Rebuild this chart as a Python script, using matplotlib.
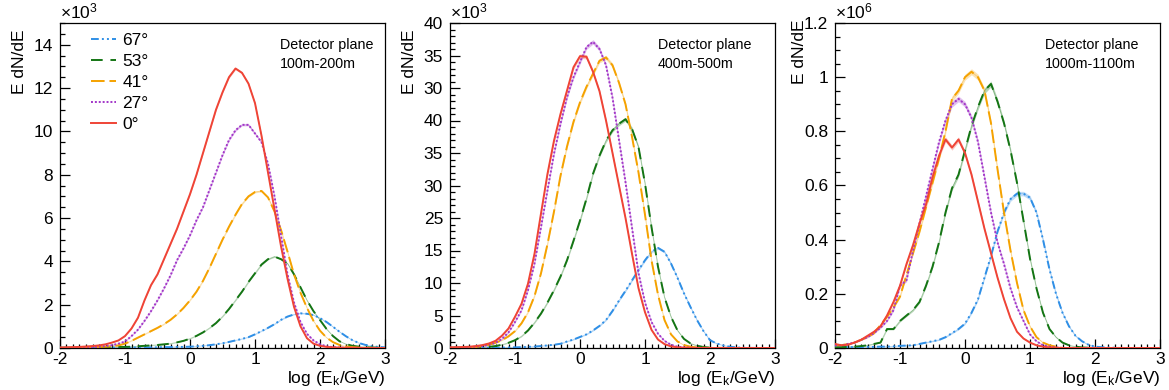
import numpy as np
import matplotlib
matplotlib.use('Agg')
import matplotlib.pyplot as plt
from matplotlib.ticker import MultipleLocator, FixedLocator, FixedFormatter

plt.rcParams['font.family'] = ['Liberation Sans', 'DejaVu Sans']
plt.rcParams['axes.unicode_minus'] = False
plt.rcParams['mathtext.default'] = 'regular'

# ---------------- data ----------------
log_ek = np.round(np.arange(-2.0, 3.001, 0.1), 2)   # bin centres, log(Ek/GeV)
angles = ['67°', '53°', '41°', '27°', '0°']
ranges = ['100m-200m', '400m-500m', '1000m-1100m']
y_scale_text = [r'$\times$10$^{3}$', r'$\times$10$^{3}$', r'$\times$10$^{6}$']
y_max = [15, 50, 1.2]
mid_tick_values = [0, 5, 10, 15, 20, 25, 30, 35, 40, 45, 50]
mid_tick_labels = ['0', '5', '10', '15', '25', '30', '35', '40', '30', '35', '40']

# panel 1: 100m-200m (x10^3)
red1 = [0.02, 0.03, 0.04, 0.05, 0.07, 0.09, 0.12, 0.17, 0.25, 0.35,
        0.55, 0.9, 1.4, 2.2, 2.9, 3.4, 4.1, 4.8, 5.5, 6.3,
        7.1, 8.0, 9.0, 10.0, 11.0, 11.8, 12.5, 12.9, 12.7, 12.2,
        11.3, 9.8, 8.1, 6.4, 4.7, 3.2, 1.9, 1.0, 0.45, 0.2,
        0.1, 0.05, 0.03, 0.02, 0.01, 0.01, 0.01, 0.0, 0.0, 0.0, 0.0]
purple1 = [0.01, 0.01, 0.02, 0.02, 0.03, 0.04, 0.06, 0.09, 0.13, 0.2,
           0.3, 0.55, 0.85, 1.25, 1.7, 2.2, 2.75, 3.35, 4.05, 4.6,
           5.2, 5.9, 6.5, 7.3, 8.1, 8.9, 9.6, 10.05, 10.3, 10.3,
           9.9, 9.5, 8.5, 7.0, 5.2, 3.4, 2.1, 1.2, 0.65, 0.35,
           0.17, 0.08, 0.04, 0.02, 0.01, 0.01, 0.0, 0.0, 0.0, 0.0, 0.0]
orange1 = [0.01, 0.01, 0.02, 0.02, 0.03, 0.04, 0.05, 0.06, 0.08, 0.12,
           0.2, 0.33, 0.48, 0.63, 0.78, 0.93, 1.1, 1.3, 1.55, 1.85,
           2.2, 2.6, 3.1, 3.7, 4.35, 5.0, 5.6, 6.15, 6.65, 7.0,
           7.2, 7.25, 6.95, 6.3, 5.45, 4.45, 3.4, 2.55, 1.85, 1.25,
           0.8, 0.48, 0.27, 0.14, 0.07, 0.04, 0.02, 0.01, 0.01, 0.0, 0.0]
green1 = [0.01, 0.01, 0.01, 0.02, 0.02, 0.02, 0.03, 0.03, 0.04, 0.05,
          0.05, 0.06, 0.08, 0.1, 0.12, 0.14, 0.17, 0.2, 0.26, 0.33,
          0.43, 0.56, 0.72, 0.92, 1.15, 1.45, 1.8, 2.2, 2.6, 3.05,
          3.45, 3.85, 4.1, 4.22, 4.1, 3.9, 3.4, 2.8, 2.2, 1.7,
          1.29, 0.88, 0.55, 0.31, 0.18, 0.1, 0.06, 0.04, 0.02, 0.01, 0.01]
blue1 = [0.01, 0.01, 0.01, 0.01, 0.01, 0.01, 0.01, 0.01, 0.02, 0.02,
         0.02, 0.02, 0.03, 0.03, 0.03, 0.03, 0.04, 0.04, 0.05, 0.05,
         0.06, 0.08, 0.1, 0.13, 0.17, 0.22, 0.28, 0.35, 0.42, 0.5,
         0.63, 0.78, 0.93, 1.1, 1.3, 1.45, 1.55, 1.6, 1.58, 1.52,
         1.38, 1.2, 0.98, 0.75, 0.54, 0.36, 0.23, 0.14, 0.08, 0.05, 0.03]

# panel 2: 400m-500m (x10^3, axis as printed)
red2 = [0.1, 0.12, 0.15, 0.2, 0.3, 0.45, 0.7, 1.1, 1.9, 3.0,
        4.8, 6.8, 9.9, 14.5, 20.7, 26.8, 31.9, 36.0, 39.6, 43.2,
        44.9, 44.8, 42.5, 39.5, 35.0, 30.0, 25.0, 20.0, 14.5, 9.2,
        5.5, 2.8, 1.3, 0.6, 0.25, 0.1, 0.05, 0.02, 0.01, 0.0,
        0.0, 0.0, 0.0, 0.0, 0.0, 0.0, 0.0, 0.0, 0.0, 0.0, 0.0]
purple2 = [0.05, 0.07, 0.1, 0.15, 0.2, 0.3, 0.5, 0.8, 1.4, 2.4,
           4.0, 5.8, 8.9, 13.0, 18.6, 24.3, 29.9, 34.5, 38.6, 41.7,
           44.0, 46.3, 47.1, 46.0, 43.5, 38.5, 32.0, 25.5, 18.5, 11.5,
           7.0, 4.0, 2.2, 1.1, 0.5, 0.2, 0.1, 0.05, 0.02, 0.01,
           0.0, 0.0, 0.0, 0.0, 0.0, 0.0, 0.0, 0.0, 0.0, 0.0, 0.0]
orange2 = [0.03, 0.05, 0.07, 0.1, 0.15, 0.3, 0.5, 0.8, 1.2, 1.8,
           2.6, 3.8, 5.5, 8.0, 11.5, 16.0, 21.0, 26.5, 31.0, 34.8,
           37.8, 40.2, 42.2, 44.2, 44.7, 43.5, 40.8, 37.5, 32.5, 27.0,
           20.5, 13.5, 8.2, 4.3, 2.1, 1.0, 0.45, 0.2, 0.08, 0.03,
           0.01, 0.0, 0.0, 0.0, 0.0, 0.0, 0.0, 0.0, 0.0, 0.0, 0.0]
green2 = [0.02, 0.03, 0.04, 0.06, 0.08, 0.12, 0.18, 0.3, 0.5, 0.8,
          1.2, 1.8, 2.7, 3.9, 5.3, 7.0, 8.9, 11.0, 13.5, 16.5,
          19.6, 23.0, 26.8, 29.6, 31.9, 33.5, 34.5, 35.2, 33.7, 30.9,
          25.3, 18.6, 12.5, 7.8, 4.8, 2.7, 1.4, 0.7, 0.35, 0.15,
          0.06, 0.03, 0.01, 0.0, 0.0, 0.0, 0.0, 0.0, 0.0, 0.0, 0.0]
blue2 = [0.02, 0.02, 0.02, 0.02, 0.02, 0.03, 0.04, 0.05, 0.06, 0.08,
         0.1, 0.13, 0.17, 0.22, 0.3, 0.4, 0.5, 0.65, 1.0, 1.3,
         1.7, 2.1, 2.7, 3.4, 4.3, 5.7, 7.3, 8.8, 10.4, 12.0,
         13.5, 14.8, 15.4, 14.8, 13.0, 10.8, 8.4, 6.3, 4.3, 2.6,
         1.2, 0.7, 0.4, 0.2, 0.1, 0.05, 0.02, 0.01, 0.0, 0.0, 0.0]

# panel 3: 1000m-1100m (x10^6)
red3 = [0.015, 0.01, 0.012, 0.02, 0.03, 0.045, 0.06, 0.08, 0.12, 0.17,
        0.23, 0.31, 0.38, 0.46, 0.53, 0.63, 0.71, 0.77, 0.74, 0.77,
        0.72, 0.64, 0.54, 0.44, 0.35, 0.26, 0.18, 0.11, 0.06, 0.035,
        0.02, 0.01, 0.005, 0.002, 0.001, 0.0, 0.0, 0.0, 0.0, 0.0,
        0.0, 0.0, 0.0, 0.0, 0.0, 0.0, 0.0, 0.0, 0.0, 0.0, 0.0]
purple3 = [0.01, 0.01, 0.015, 0.02, 0.03, 0.04, 0.055, 0.075, 0.1, 0.14,
           0.23, 0.25, 0.36, 0.46, 0.56, 0.66, 0.76, 0.84, 0.9, 0.92,
           0.9, 0.85, 0.76, 0.63, 0.5, 0.39, 0.31, 0.22, 0.15, 0.1,
           0.05, 0.025, 0.01, 0.005, 0.002, 0.0, 0.0, 0.0, 0.0, 0.0,
           0.0, 0.0, 0.0, 0.0, 0.0, 0.0, 0.0, 0.0, 0.0, 0.0, 0.0]
orange3 = [0.01, 0.01, 0.015, 0.02, 0.03, 0.04, 0.055, 0.085, 0.115, 0.15,
           0.19, 0.27, 0.35, 0.43, 0.52, 0.61, 0.7, 0.8, 0.92, 0.95,
           1.0, 1.02, 1.0, 0.95, 0.83, 0.66, 0.5, 0.36, 0.24, 0.14,
           0.08, 0.04, 0.02, 0.01, 0.005, 0.0, 0.0, 0.0, 0.0, 0.0,
           0.0, 0.0, 0.0, 0.0, 0.0, 0.0, 0.0, 0.0, 0.0, 0.0, 0.0]
green3 = [0.002, 0.003, 0.004, 0.005, 0.007, 0.01, 0.015, 0.02, 0.07, 0.07,
          0.1, 0.12, 0.14, 0.17, 0.23, 0.3, 0.39, 0.5, 0.59, 0.64,
          0.73, 0.82, 0.89, 0.95, 0.975, 0.91, 0.83, 0.73, 0.61, 0.47,
          0.33, 0.22, 0.13, 0.07, 0.04, 0.02, 0.01, 0.005, 0.002, 0.001,
          0.0, 0.0, 0.0, 0.0, 0.0, 0.0, 0.0, 0.0, 0.0, 0.0, 0.0]
blue3 = [0.003, 0.003, 0.003, 0.003, 0.003, 0.004, 0.004, 0.005, 0.005, 0.006,
         0.008, 0.009, 0.01, 0.015, 0.02, 0.025, 0.03, 0.04, 0.055, 0.07,
         0.09, 0.13, 0.18, 0.26, 0.34, 0.43, 0.5, 0.55, 0.57, 0.57,
         0.555, 0.5, 0.4, 0.29, 0.2, 0.13, 0.08, 0.045, 0.025, 0.012,
         0.005, 0.003, 0.002, 0.001, 0.0, 0.0, 0.0, 0.0, 0.0, 0.0, 0.0]

panels = [
    [blue1, green1, orange1, purple1, red1],
    [blue2, green2, orange2, purple2, red2],
    [blue3, green3, orange3, purple3, red3],
]
band_scale = [0.015, 0.05, 0.011]

# ---------------- style ----------------
colors = ['#2f8fe6', '#147514', '#f5a200', '#a236c8', '#ef4436']
styles = [(0, (4, 1.6, 1, 1.6, 1, 1.6)), (0, (6, 4)), (0, (7, 2.5)),
          (0, (1, 1)), '-']

fig = plt.figure(figsize=(11.69, 3.90), dpi=100)
W, H = 1169.0, 390.0
lefts = [60, 450, 835]
ylabel_x = [20, 410, 799]
ylabel_top = [30, 30, 20]
FS = 12.5

for p in range(3):
    ax = fig.add_axes([lefts[p] / W, (H - 348) / H, 325 / W, 325 / H])
    for i in range(5):
        y = np.array(panels[p][i])
        err = band_scale[p] * np.sqrt(y)
        ax.fill_between(log_ek, y - err, y + err, color=colors[i],
                        alpha=0.3, lw=0, zorder=1)
        ax.plot(log_ek, y, color=colors[i], lw=0.6, alpha=0.35, zorder=2)
        ax.plot(log_ek, y, color=colors[i], lw=1.4, ls=styles[i],
                label=angles[i], zorder=3)
    ax.set_xlim(-2, 3)
    ax.set_ylim(0, y_max[p])
    ax.xaxis.set_major_locator(MultipleLocator(1))
    ax.xaxis.set_minor_locator(MultipleLocator(0.1))
    if p == 0:
        ax.yaxis.set_major_locator(MultipleLocator(2))
        ax.yaxis.set_minor_locator(MultipleLocator(0.5))
    elif p == 1:
        ax.yaxis.set_major_locator(FixedLocator(mid_tick_values))
        ax.yaxis.set_major_formatter(FixedFormatter(mid_tick_labels))
        ax.yaxis.set_minor_locator(MultipleLocator(1))
    else:
        ax.yaxis.set_major_locator(FixedLocator([0, 0.2, 0.4, 0.6, 0.8, 1.0, 1.2]))
        ax.yaxis.set_major_formatter(FixedFormatter(['0', '0.2', '0.4', '0.6', '0.8', '1', '1.2']))
        ax.yaxis.set_minor_locator(MultipleLocator(0.05))
    ax.tick_params(which='both', direction='in', top=False, right=False,
                   labelsize=FS, width=0.9)
    ax.tick_params(axis='y', which='major', length=7, pad=5)
    ax.tick_params(axis='y', which='minor', length=3.5)
    ax.tick_params(axis='x', which='major', length=6.5, pad=3)
    ax.tick_params(axis='x', which='minor', length=3.2)
    for s in ax.spines.values():
        s.set_linewidth(0.9)
    ax.set_xlabel(r'log (E$_{k}$/GeV)', loc='right', fontsize=FS, labelpad=1)
    ax.text(0.0, 1.005, y_scale_text[p], transform=ax.transAxes,
            ha='left', va='bottom', fontsize=FS)
    fig.text(ylabel_x[p] / W, 1 - ylabel_top[p] / H, 'E dN/dE', rotation=90,
             ha='center', va='top', fontsize=FS)
    tx = [0.677, 0.64, 0.646][p]
    ax.text(tx, 0.932, 'Detector plane', transform=ax.transAxes,
            ha='left', va='center', fontsize=10.3)
    ax.text(tx, 0.874, ranges[p], transform=ax.transAxes,
            ha='left', va='center', fontsize=10.3)
    if p == 0:
        h, l = ax.get_legend_handles_labels()
        ax.legend(h, l, loc='upper left', bbox_to_anchor=(0.075, 0.99),
                  frameon=False, fontsize=FS, handlelength=1.45,
                  handletextpad=0.35, labelspacing=0.33, borderaxespad=0)

fig.savefig('out.png', dpi=100)
